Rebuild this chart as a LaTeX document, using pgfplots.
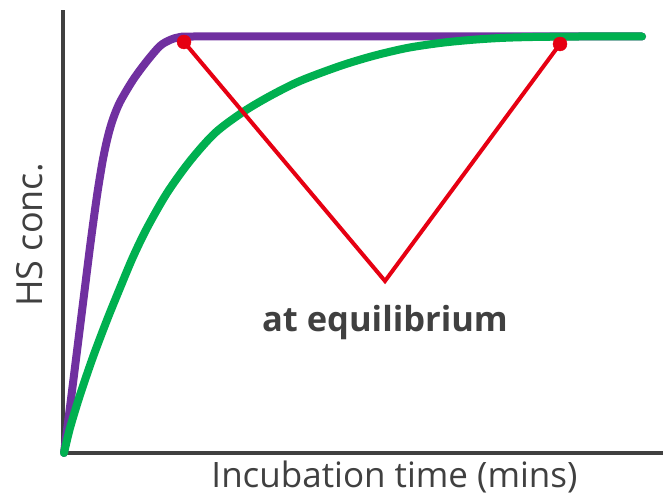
\documentclass[border=0pt]{standalone}
\usepackage{pgfplots}
\pgfplotsset{compat=1.18}
\usepackage{fontspec}
\setmainfont{Open Sans}
\definecolor{cpurple}{HTML}{7030A0}
\definecolor{cgreen}{HTML}{00B050}
\definecolor{cred}{HTML}{E60012}
\definecolor{cgray}{HTML}{404040}
\begin{document}
\begin{tikzpicture}
\begin{axis}[
  scale only axis, width=600bp, height=443bp,
  xmin=63, xmax=663, ymin=0, ymax=443,
  axis x line=bottom, axis y line=left,
  axis line style={-, line width=3.5bp, draw=cgray},
  xtick=\empty, ytick=\empty, clip=false,
]
\addplot[cpurple, line width=8bp, smooth, line cap=round] coordinates {
(64,0) (70,46) (76,94) (82,142) (86,174) (90,206) (94,236) (98,264) (103,294) (108,317) (113,334) (120,351) (133,373) (147,392) (160,407) (170,413) (180,416) (195,416.5) (300,416.5) (642,416.5)
};
\addplot[cgreen, line width=8bp, smooth, line cap=round] coordinates {
(64,0) (70,25) (80,58) (93,96) (107,133) (120,165) (133,196) (147,225) (167,260) (190,292) (215,320) (243,341) (270,357) (300,372) (340,387) (373,397) (407,405) (440,410) (470,413) (500,415) (533,416) (580,416.5) (642,416.5)
};
\addplot[cred, line width=4bp] coordinates {(184,411) (385,172) (560,409)};
\addplot[cred, only marks, mark=*, mark size=7bp] coordinates {(184,411) (560,409)};
\node[anchor=base, text=cgray, font=\bfseries\fontsize{34.5bp}{40bp}\selectfont] at (axis cs:385,122) {at equilibrium};
\node[anchor=base, text=cgray, font=\fontsize{35bp}{42bp}\selectfont] at (axis cs:394.5,-34) {Incubation time (mins)};
\node[anchor=base, rotate=90, text=cgray, font=\fontsize{36bp}{42bp}\selectfont] at (axis cs:43,218) {HS conc.};
\coordinate (bl) at (axis cs:0,-44);
\coordinate (tr) at (axis cs:663,453);
\end{axis}
\pgfresetboundingbox
\useasboundingbox (bl) rectangle (tr);
\end{tikzpicture}
\end{document}
